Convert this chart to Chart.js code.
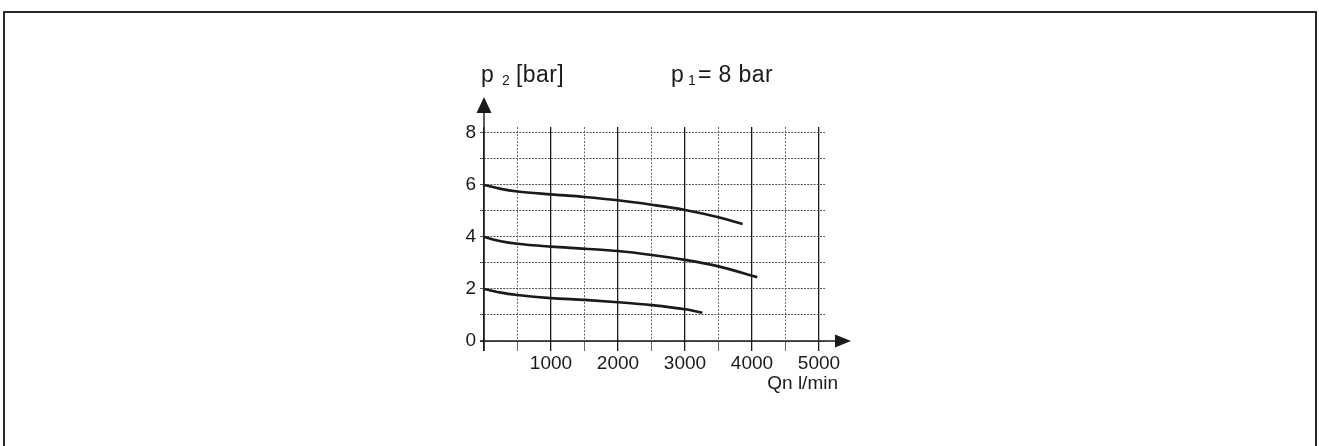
<!DOCTYPE html>
<html>
<head>
<meta charset="utf-8">
<script src="https://cdn.jsdelivr.net/npm/chart.js@4.4.1/dist/chart.umd.min.js"></script>
<style>
html,body{margin:0;padding:0;background:#fff;}
#wrap{position:relative;width:1319px;height:446px;}
</style>
</head>
<body>
<div id="wrap"><canvas id="c"></canvas></div>
<script>
// Data (Qn in l/min, p2 in bar)
const flowTicks = [0, 500, 1000, 1500, 2000, 2500, 3000, 3500, 4000, 4500, 5000];
const pressureTicks = [0, 1, 2, 3, 4, 5, 6, 7, 8];
const curve6Flow = [0, 250, 500, 1000, 1500, 2000, 2500, 3000, 3500, 3860];
const curve6P2   = [6.0, 5.85, 5.75, 5.64, 5.54, 5.41, 5.24, 5.04, 4.76, 4.50];
const curve4Flow = [0, 250, 500, 1000, 1500, 2000, 2500, 3000, 3500, 4080];
const curve4P2   = [4.0, 3.84, 3.74, 3.63, 3.55, 3.46, 3.31, 3.12, 2.87, 2.45];
const curve2Flow = [0, 250, 500, 1000, 1500, 2000, 2500, 3000, 3260];
const curve2P2   = [2.0, 1.86, 1.77, 1.65, 1.58, 1.49, 1.38, 1.22, 1.09];
const yTitle = 'p';
const yTitleSub = '2';
const yTitleUnit = '[bar]';
const inletLabel = 'p';
const inletSub = '1';
const inletRest = '= 8 bar';
const xTitle = 'Qn l/min';

function pts(xs, ys){ return xs.map((x,i)=>({x:x, y:ys[i]})); }

const ink = '#1a1a1a';
const FONT = '"Liberation Sans", Arial, sans-serif';

const decor = {
  id: 'decor',
  beforeDraw(chart){
    const ctx = chart.ctx;
    ctx.save();
    ctx.fillStyle = '#fff';
    ctx.fillRect(0,0,chart.width,chart.height);
    // frame
    ctx.strokeStyle = '#2a2a2a';
    ctx.lineWidth = 2;
    ctx.beginPath();
    ctx.moveTo(4, 446);
    ctx.lineTo(4, 12);
    ctx.lineTo(1316, 12);
    ctx.lineTo(1316, 446);
    ctx.stroke();
    ctx.restore();
  },
  afterDraw(chart){
    const ctx = chart.ctx;
    const xs = chart.scales.x, ys = chart.scales.y;
    const x0 = xs.getPixelForValue(0), y0 = ys.getPixelForValue(0);
    ctx.save();
    ctx.strokeStyle = ink; ctx.fillStyle = ink; ctx.lineWidth = 1.4;
    // y axis with arrow
    ctx.beginPath();
    ctx.moveTo(x0, y0 + 10);
    ctx.lineTo(x0, 110);
    ctx.stroke();
    ctx.beginPath();
    ctx.moveTo(x0, 97); ctx.lineTo(x0 - 7.5, 113); ctx.lineTo(x0 + 7.5, 113); ctx.closePath(); ctx.fill();
    // x axis with arrow
    ctx.beginPath();
    ctx.moveTo(x0 - 4, y0);
    ctx.lineTo(838, y0);
    ctx.stroke();
    ctx.beginPath();
    ctx.moveTo(851, y0); ctx.lineTo(835, y0 - 6.5); ctx.lineTo(835, y0 + 6.5); ctx.closePath(); ctx.fill();
    // titles
    ctx.textBaseline = 'alphabetic';
    ctx.textAlign = 'left';
    ctx.font = '23px ' + FONT;
    ctx.letterSpacing = '0.4px';
    ctx.fillText(yTitle, 481, 82);
    ctx.fillText(yTitleUnit, 516, 82);
    ctx.fillText(inletLabel, 671, 82);
    ctx.fillText(inletRest, 698, 82);
    ctx.font = '14px ' + FONT;
    ctx.letterSpacing = '0px';
    ctx.fillText(yTitleSub, 502, 85);
    ctx.fillText(inletSub, 688, 85);
    // x unit
    ctx.font = '19px ' + FONT;
    ctx.textAlign = 'right';
    ctx.textBaseline = 'middle';
    ctx.fillText(xTitle, 838, 384);
    ctx.restore();
  }
};

const lineStyle = {borderColor: ink, borderWidth: 2.6, pointRadius: 0, tension: 0.4, fill: false, cubicInterpolationMode: 'monotone'};

new Chart(document.getElementById('c'), {
  type: 'scatter',
  data: {
    datasets: [
      Object.assign({label: 'p2 6 bar', data: pts(curve6Flow, curve6P2), showLine: true}, lineStyle),
      Object.assign({label: 'p2 4 bar', data: pts(curve4Flow, curve4P2), showLine: true}, lineStyle),
      Object.assign({label: 'p2 2 bar', data: pts(curve2Flow, curve2P2), showLine: true}, lineStyle)
    ]
  },
  options: {
    responsive: true,
    maintainAspectRatio: false,
    animation: false,
    layout: {padding: {left: 444, right: 494, top: 127, bottom: 65}},
    plugins: {legend: {display: false}, tooltip: {enabled: false}, title: {display: false}},
    scales: {
      x: {
        type: 'linear', min: 0, max: 5090,
        afterBuildTicks(s){ s.ticks = flowTicks.map(v=>({value:v})); },
        afterFit(s){ s.height = 40; },
        border: {display: false, dash: (c)=> (c.tick && c.tick.value % 1000 === 0) ? [] : [2,1.5]},
        grid: {
          drawTicks: true, tickLength: 10,
          color: (c)=> (c.tick && c.tick.value % 1000 === 0) ? '#1a1a1a' : '#6a6a6a',
          lineWidth: (c)=> (c.tick && c.tick.value % 1000 === 0) ? 1.3 : 1,
          tickColor: (c)=> (c.tick && c.tick.value % 1000 === 0) ? '#1a1a1a' : '#6a6a6a'
        },
        ticks: {
          color: ink, padding: 1, maxRotation: 0, autoSkip: false,
          font: {family: FONT, size: 19},
          callback: (v)=> (v !== 0 && v % 1000 === 0) ? String(v) : ''
        }
      },
      y: {
        type: 'linear', min: 0, max: 8.23,
        afterBuildTicks(s){ s.ticks = pressureTicks.map(v=>({value:v})); },
        afterFit(s){ s.width = 40; },
        border: {display: false, dash: [2,1.2]},
        grid: {drawTicks: true, tickLength: 4, color: '#555', lineWidth: 1, tickColor: '#555'},
        ticks: {
          color: ink, padding: 4, autoSkip: false,
          font: {family: FONT, size: 19},
          callback: (v)=> (v % 2 === 0) ? String(v) : ''
        }
      }
    }
  },
  plugins: [decor]
});
</script>
</body>
</html>
